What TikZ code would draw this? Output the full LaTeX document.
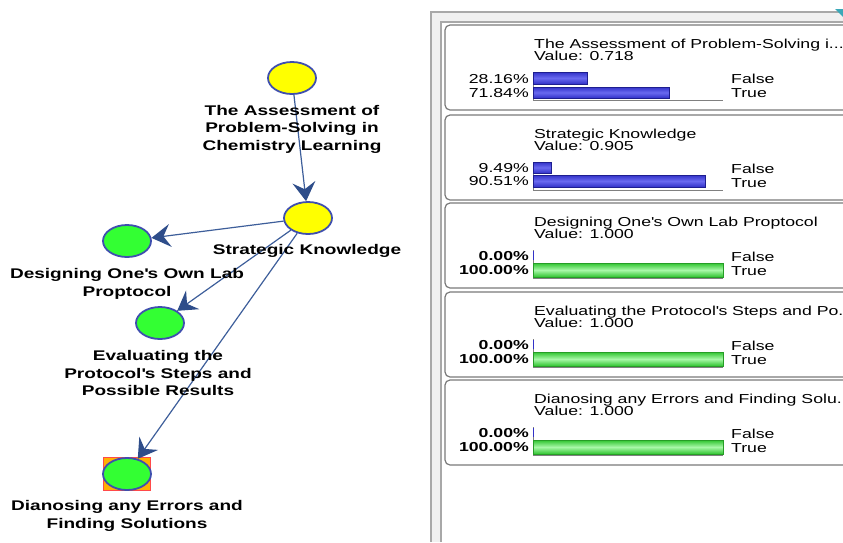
\documentclass[tikz,border=0pt]{standalone}
\usepackage{fontspec}
\setmainfont{Liberation Sans}
\newfontfamily\gfont[FakeStretch=1.36]{Liberation Sans}
\newfontfamily\pfont[FakeStretch=1.36]{Liberation Sans}
\usetikzlibrary{arrows.meta,shapes.geometric}
\definecolor{edgeblue}{HTML}{2E4D8A}
\definecolor{edgeline}{HTML}{3D5E9A}
\definecolor{nodeborder}{HTML}{3F4FAE}
\definecolor{nyellow}{HTML}{FFFF00}
\definecolor{ngreen}{HTML}{33FF33}
\definecolor{boxgray}{HTML}{7A7A7A}
\definecolor{panelbg}{HTML}{F0F0F0}
\definecolor{panelline}{HTML}{A8A8A8}
\definecolor{barblue}{HTML}{3232C8}
\definecolor{barblueL}{HTML}{6A6AF0}
\definecolor{barblueD}{HTML}{1E1E90}
\definecolor{bargreen}{HTML}{2FC42F}
\definecolor{bargreenL}{HTML}{A8F8A8}
\definecolor{hlred}{HTML}{FF4A4A}
\definecolor{hlorange}{HTML}{FFB000}
\definecolor{tealc}{HTML}{3AA8B8}
\newcommand\probbox[4]{%
  \begin{scope}[yshift=-#1pt]
    \draw[boxstyle] (445,0) rectangle (870,85);
    \node[ptext, anchor=base west] (title#2) at (534,23.5) {#3};
    \node[ptext, anchor=base west] (value#2) at (534,35) {Value: #4};
    \node[ptext, anchor=base west] (false#2) at (731,58) {False};
    \node[ptext, anchor=base west] (true#2) at (731,72) {True};
    \draw[axisline] (533,47) -- (533,75) -- (723,75);
  \end{scope}}
\begin{document}
\begin{tikzpicture}[x=1pt,y=-1pt,
  bnode/.style={ellipse, draw=nodeborder, line width=1.8pt, minimum width=48pt, minimum height=32pt, inner sep=0pt},
  glabel/.style={font=\gfont\bfseries\fontsize{14}{17.5}\selectfont, align=center, inner sep=0pt},
  edge/.style={draw=edgeline, line width=1.2pt, -{Stealth[length=19pt,width=23pt,inset=7pt,color=edgeblue]}},
  boxstyle/.style={draw=boxgray, line width=1.2pt, fill=white, rounded corners=5pt},
  ptext/.style={font=\pfont\fontsize{13}{13}\selectfont, inner sep=0pt},
  pbold/.style={font=\pfont\bfseries\fontsize{13}{13}\selectfont, inner sep=0pt},
  axisline/.style={draw=gray, line width=1pt},
  bluebar/.style={draw=barblueD, line width=0.6pt, top color=barblue, bottom color=barblue, middle color=barblueL},
  greenbar/.style={draw=bargreen!80!black, line width=0.6pt, top color=bargreen, bottom color=bargreen, middle color=bargreenL},
  bluetick/.style={draw=barblue, line width=1.2pt}
]
\useasboundingbox (0,0) rectangle (843,542);
\begin{scope}
\clip (0,0) rectangle (843,542);
% ---------- panel ----------
\fill[panelbg] (431,12) rectangle (843,542);
\draw[panelline, line width=1.6pt] (431,542) -- (431,12) -- (843,12);
\fill[white] (441,22) rectangle (843,542);
\draw[panelline, line width=1.4pt] (441,542) -- (441,22) -- (843,22);
\fill[tealc] (835,9) -- (843,9) -- (843,17) -- cycle;

% box 1
\probbox{25}{1}{The Assessment of Problem-Solving i...}{0.718}
\begin{scope}[yshift=-25pt]
  \draw[bluebar] (533,47) rectangle (587,59);
  \draw[bluebar] (533,62) rectangle (669,73);
  \node[ptext, anchor=base east] (pf1) at (529,58) {28.16\%};
  \node[ptext, anchor=base east] (pt1) at (529,72) {71.84\%};
\end{scope}
% box 2
\probbox{115}{2}{Strategic Knowledge}{0.905}
\begin{scope}[yshift=-115pt]
  \draw[bluebar] (533,47) rectangle (551,58);
  \draw[bluebar] (533,60) rectangle (705,72);
  \node[ptext, anchor=base east] (pf2) at (529,57) {9.49\%};
  \node[ptext, anchor=base east] (pt2) at (529,70) {90.51\%};
\end{scope}
% box 3
\probbox{203}{3}{Designing One\textquotesingle s Own Lab Proptocol}{1.000}
\begin{scope}[yshift=-203pt]
  \draw[bluetick] (533.6,48) -- (533.6,57);
  \draw[greenbar] (533,60) rectangle (723,74);
  \node[pbold, anchor=base east] (pf3) at (529,57) {0.00\%};
  \node[pbold, anchor=base east] (pt3) at (529,71) {100.00\%};
\end{scope}
% box 4
\probbox{292}{4}{Evaluating the Protocol\textquotesingle s Steps and Po...}{1.000}
\begin{scope}[yshift=-292pt]
  \draw[bluetick] (533.6,48) -- (533.6,57);
  \draw[greenbar] (533,60) rectangle (723,74);
  \node[pbold, anchor=base east] (pf4) at (529,57) {0.00\%};
  \node[pbold, anchor=base east] (pt4) at (529,71) {100.00\%};
\end{scope}
% box 5
\probbox{380}{5}{Dianosing any Errors and Finding Solu...}{1.000}
\begin{scope}[yshift=-380pt]
  \draw[bluetick] (533.6,48) -- (533.6,57);
  \draw[greenbar] (533,60) rectangle (723,74);
  \node[pbold, anchor=base east] (pf5) at (529,57) {0.00\%};
  \node[pbold, anchor=base east] (pt5) at (529,71) {100.00\%};
\end{scope}

% ---------- graph ----------
\node[bnode, fill=nyellow] (A) at (292,78) {};
\node[bnode, fill=nyellow] (B) at (308,218) {};
\node[bnode, fill=ngreen] (C) at (127,241) {};
\node[bnode, fill=ngreen] (D) at (160,323) {};
\node[draw=hlred, fill=hlorange, line width=1.5pt, minimum width=47pt, minimum height=33pt, inner sep=0pt] (Ehl) at (127,474) {};
\node[bnode, fill=ngreen] (E) at (127,474) {};

\draw[edge] (A) -- (B);
\draw[edge] (B) -- (C);
\draw[edge] (B) -- (D);
\draw[edge] (B) -- (E);

\node[glabel] (Alab) at (292,129) {The Assessment of\\Problem-Solving in\\Chemistry Learning};
\node[glabel] (Blab) at (307,251) {Strategic Knowledge};
\node[glabel] (Clab) at (127,284) {Designing One\textquotesingle s Own Lab\\Proptocol};
\node[glabel] (Dlab) at (158,373) {Evaluating the\\Protocol\textquotesingle s Steps and\\Possible Results};
\node[glabel] (Elab) at (127,516) {Dianosing any Errors and\\Finding Solutions};
\end{scope}
\end{tikzpicture}
\end{document}
